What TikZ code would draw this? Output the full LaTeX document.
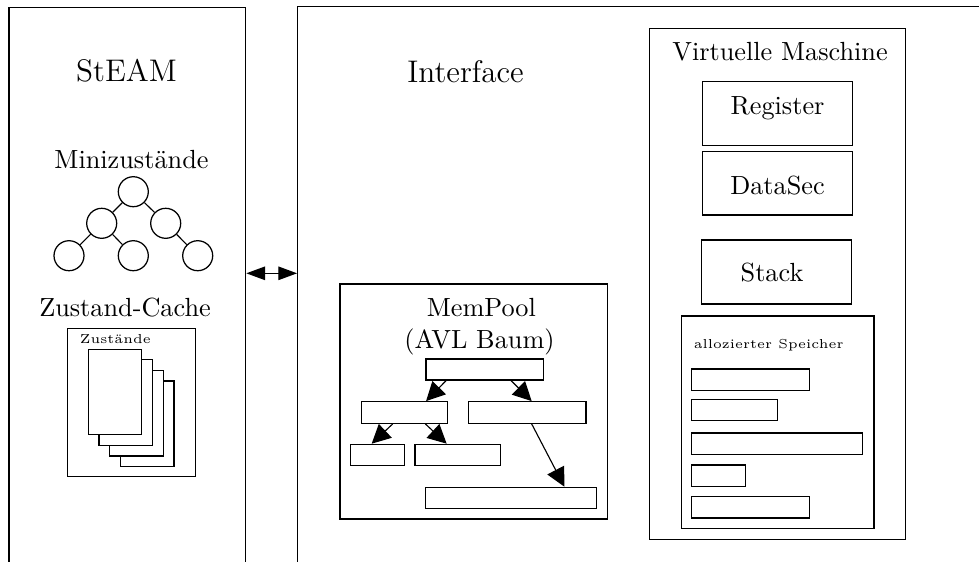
\documentclass[tikz,border=0pt]{standalone}
\usetikzlibrary{fit,calc,arrows.meta}
\begin{document}
\begin{tikzpicture}[x=0.4pt,y=-0.4pt,
  box/.style={draw,line width=0.5pt,inner sep=0pt},
  page/.style={draw,line width=0.5pt,inner sep=0pt,fill=white},
  bar/.style={draw,line width=0.5pt,inner sep=0pt},
  knot/.style={draw,circle,line width=0.5pt,inner sep=0pt,minimum size=12pt},
  title/.style={font=\fontsize{12.5}{14.5}\selectfont,inner sep=0pt,anchor=base},
  big/.style={font=\fontsize{10.5}{12.5}\selectfont,inner sep=0pt,anchor=base},
  small/.style={font=\fontsize{5.2}{6}\selectfont,inner sep=0pt,anchor=base},
  arr/.style={line width=0.45pt,-{Triangle[length=7.5pt,width=7.5pt]}},
  dbl/.style={line width=0.5pt,{Triangle[length=7.5pt,width=5.4pt]}-{Triangle[length=7.5pt,width=5.4pt]}}]
\useasboundingbox (0,0) rectangle (979,561);
\clip (0,0) rectangle (979,561);

% two main columns, open at the bottom
\node[box,fit={(9,7.3) (245.7,620)}] (steam) {};
\node[box,fit={(297.7,6.5) (1010,620)}] (iface) {};
\coordinate (linky) at (0,273.3);
\draw[dbl] (steam.east |- linky) -- (iface.west |- linky);

% StEAM column
\node[title] (tsteam) at (126.5,81.7) {StEAM};
\node[big] (tmini) at (131.5,168) {Minizustände};
\node[knot] (c1) at (133.3,191.7) {};
\node[knot] (c2) at (101.7,223.3) {};
\node[knot] (c3) at (165.7,223.3) {};
\node[knot] (c4) at (69,255.7) {};
\node[knot] (c5) at (133.3,255.7) {};
\node[knot] (c6) at (197.7,255.7) {};
\draw[line width=0.45pt] (c1) -- (c2);
\draw[line width=0.45pt] (c1) -- (c3);
\draw[line width=0.45pt] (c2) -- (c4);
\draw[line width=0.45pt] (c2) -- (c5);
\draw[line width=0.45pt] (c3) -- (c6);

\node[big] (tcache) at (125,316.7) {Zustand-Cache};
\node[box,fit={(67.7,328.3) (195.3,476.7)}] (cache) {};
\node[small] (tstates) at (115.3,343.3) {Zustände};
\node[page,fit={(120.3,381) (174,466.7)}] (p4) {};
\node[page,fit={(109.7,370.3) (163.3,456)}] (p3) {};
\node[page,fit={(99,359.3) (152.7,445.3)}] (p2) {};
\node[page,fit={(88.3,349.3) (141.7,434.3)}] (p1) {};

% Interface column
\node[title] (tiface) at (465.5,82) {Interface};

% MemPool
\node[box,fit={(340,284) (607.3,519)}] (pool) {};
\node[big] (tpool) at (481.3,316.7) {MemPool};
\node[big] (tavl) at (479.5,348.3) {(AVL Baum)};
\node[bar,fit={(426,359) (543.3,380)}] (root) {};
\node[bar,fit={(361.7,401.7) (447.3,423.3)}] (lc) {};
\node[bar,fit={(468.3,401.7) (586,423.3)}] (rc) {};
\node[bar,fit={(350.7,444.3) (404.3,465.7)}] (ll) {};
\node[bar,fit={(415,444.3) (500.7,465.7)}] (lr) {};
\node[bar,fit={(425.7,487.3) (596.7,508.3)}] (rr) {};
\draw[arr] ($(root.south west)+(20.7,0)$) -- ($(lc.north west)+(65,0)$);
\draw[arr] ($(root.south west)+(85.7,0)$) -- ($(rc.north west)+(64,0)$);
\draw[arr] ($(lc.south west)+(31.6,0)$) -- ($(ll.north west)+(21.6,0)$);
\draw[arr] ($(lc.south west)+(64.3,0)$) -- ($(lr.north west)+(32.3,0)$);
\draw[arr] ($(rc.south west)+(64,0)$) -- ($(rr.north west)+(139.3,0)$);

% Virtuelle Maschine
\node[box,fit={(649.3,28.3) (905.7,539.3)}] (vm) {};
\node[big] (tvm) at (780,60) {Virtuelle Maschine};
\node[box,fit={(702.7,81.7) (852.7,145.7)}] (reg) {};
\node[big] (treg) at (777.5,114.3) {Register};
\node[box,fit={(702.7,151.7) (852.7,215)}] (data) {};
\node[big] (tdata) at (777.5,194.3) {DataSec};
\node[box,fit={(701.7,240) (851.7,304)}] (stack) {};
\node[big] (tstack) at (772,281.7) {Stack};

\node[box,fit={(681.7,316) (874,528.6)}] (heap) {};
\node[small] (theap) at (768.7,348.2) {allozierter Speicher};
\node[bar,fit={(691.7,368.9) (809.7,390.4)}] (m1) {};
\node[bar,fit={(691.7,399.3) (777.7,420.7)}] (m2) {};
\node[bar,fit={(691.7,432.9) (862.7,454.3)}] (m3) {};
\node[bar,fit={(691.7,465) (745.7,486.4)}] (m4) {};
\node[bar,fit={(691.7,496.4) (809.7,517.9)}] (m5) {};
\end{tikzpicture}
\end{document}
